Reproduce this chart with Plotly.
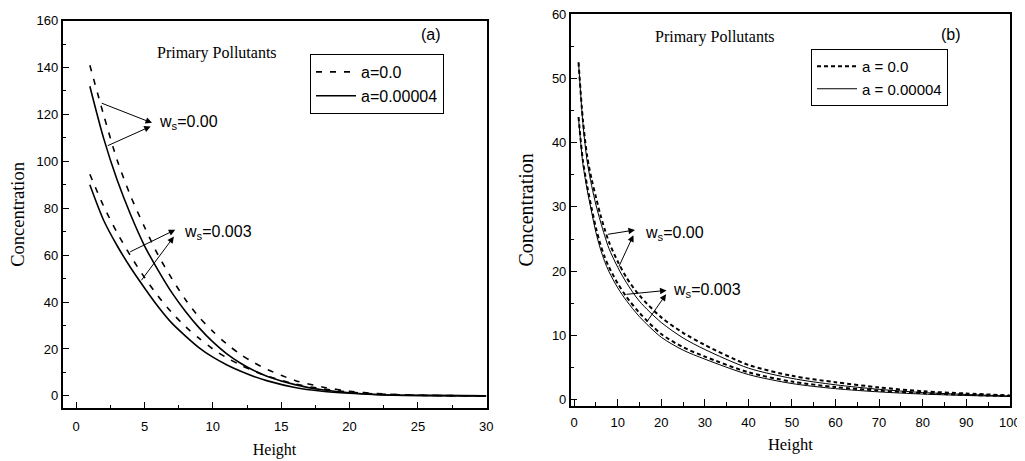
import numpy as np
import plotly.graph_objects as go

# ---------------- data ----------------
# Panel (a)
height_a = [1, 2, 3, 4, 5, 6, 7, 8, 9, 10, 11, 12, 13, 14, 16, 18, 20, 22, 25, 30]
a_dash_w0 = [141, 120, 100.5, 85, 72, 60, 50, 41, 33.5, 27.5, 22.2, 17.8, 14.2, 11.2, 6.6, 3.8, 2.0, 1.0, 0.3, 0.0]
a_solid_w0 = [132, 110, 92, 77, 64, 53.5, 44, 36, 29, 23, 18, 14, 10.8, 8.3, 4.8, 2.6, 1.3, 0.6, 0.2, 0.0]
a_dash_w3 = [94.5, 81, 69.5, 59.5, 50.5, 42.5, 35.5, 29.5, 24.5, 20, 16.3, 13.2, 10.6, 8.4, 5.1, 3.0, 1.6, 0.8, 0.25, 0.0]
a_solid_w3 = [90, 75, 64, 54.5, 46, 38, 31, 25.5, 20.5, 16.5, 13.3, 10.6, 8.3, 6.4, 3.6, 2.0, 1.1, 0.5, 0.15, 0.0]

# Panel (b)
height_b = [1, 2, 3, 4, 5, 6, 7, 8, 10, 12, 15, 20, 25, 30, 40, 50, 60, 70, 80, 90, 100]
b_dash_w0 = [52.5, 43.5, 37.8, 34.3, 31.5, 28.8, 26.5, 24.5, 21.5, 19, 16.2, 12.8, 10.4, 8.5, 5.4, 3.7, 2.7, 1.9, 1.3, 0.95, 0.65]
b_solid_w0 = [52.5, 43, 37, 33.3, 30.3, 27.8, 25.5, 23.5, 20.6, 18.2, 15.3, 12, 9.6, 7.8, 4.9, 3.3, 2.3, 1.6, 1.1, 0.8, 0.55]
b_dash_w3 = [44, 37.2, 33.2, 29.8, 26.7, 24.2, 22.2, 20.6, 18.1, 16.0, 13.5, 10.2, 8.15, 6.7, 4.25, 2.8, 1.95, 1.4, 1.0, 0.74, 0.56]
b_solid_w3 = [43.8, 36.7, 32.6, 29.2, 26.0, 23.5, 21.5, 19.9, 17.4, 15.4, 12.9, 9.7, 7.7, 6.3, 3.9, 2.5, 1.7, 1.2, 0.86, 0.64, 0.49]

legend_a = ["a=0.0", "a=0.00004"]
legend_b = ["a = 0.0", "a = 0.00004"]
ticks_a_x = [0, 5, 10, 15, 20, 25, 30]
ticks_a_y = [0, 20, 40, 60, 80, 100, 120, 140, 160]
ticks_b_x = [0, 10, 20, 30, 40, 50, 60, 70, 80, 90, 100]
ticks_b_y = [0, 10, 20, 30, 40, 50, 60]

# label positions (data coords)
lab_a = {"w0": (5.9, 116.4), "w3": (7.75, 69.5)}
lab_b = {"w0": (15.8, 25.9), "w3": (22.2, 17.0)}

SANS = "Liberation Sans"
SERIF = "Liberation Serif"

W, H = 1025, 461
OFF = 8  # page body margin of the html page


def px(xp):
    return (xp - OFF) / W


def py(yp):
    return (H + OFF - yp) / H


fig = go.Figure()


def add(x, y, xa, ya, dash, width, name, show, legend):
    fig.add_trace(go.Scatter(
        x=x, y=y, mode="lines", xaxis=xa, yaxis=ya, name=name,
        showlegend=show, legend=legend,
        line=dict(color="black", width=width, dash=dash, shape="spline", smoothing=0.8),
        hoverinfo="skip"))


DA = "6px,8px"
add(height_a, a_dash_w0, "x", "y", DA, 1.6, legend_a[0], True, "legend")
add(height_a, a_solid_w0, "x", "y", "solid", 1.6, legend_a[1], True, "legend")
add(height_a, a_dash_w3, "x", "y", DA, 1.6, legend_a[0], False, "legend")
add(height_a, a_solid_w3, "x", "y", "solid", 1.6, legend_a[1], False, "legend")

DB = "4px,3px"
add(height_b, b_dash_w0, "x2", "y2", DB, 2, legend_b[0], True, "legend2")
add(height_b, b_solid_w0, "x2", "y2", "solid", 1, legend_b[1], True, "legend2")
add(height_b, b_dash_w3, "x2", "y2", DB, 2, legend_b[0], False, "legend2")
add(height_b, b_solid_w3, "x2", "y2", "solid", 1, legend_b[1], False, "legend2")


def arrow(xref, yref, tail_x, curve_x, curve_y, head):
    ty = float(np.interp(tail_x, curve_x, curve_y))
    fig.add_annotation(x=head[0], y=head[1], ax=tail_x, ay=ty, xref=xref, yref=yref,
                       axref=xref, ayref=yref, text="", showarrow=True,
                       arrowhead=2, arrowsize=1.3, arrowwidth=1, arrowcolor="black",
                       standoff=0, startstandoff=0)


def label(xref, yref, pos, txt, size):
    fig.add_annotation(x=pos[0], y=pos[1], xref=xref, yref=yref, text=txt,
                       showarrow=False, xanchor="left", yanchor="middle",
                       font=dict(family=SANS, size=size, color="black"))


# panel (a) arrows
arrow("x", "y", 1.76, height_a, a_dash_w0, (lab_a["w0"][0] - 0.35, lab_a["w0"][1]))
arrow("x", "y", 2.2, height_a, a_solid_w0, (lab_a["w0"][0] - 0.45, lab_a["w0"][1] - 1.5))
arrow("x", "y", 3.84, height_a, a_dash_w3, (lab_a["w3"][0] - 0.5, lab_a["w3"][1] + 1.3))
arrow("x", "y", 4.69, height_a, a_solid_w3, (lab_a["w3"][0] - 0.6, lab_a["w3"][1] - 1.6))
label("x", "y", lab_a["w0"], "w<sub>s</sub>=0.00", 16)
label("x", "y", lab_a["w3"], "w<sub>s</sub>=0.003", 16)

# panel (b) arrows
arrow("x2", "y2", 7.4, height_b, b_dash_w0, (lab_b["w0"][0] - 1.85, lab_b["w0"][1] + 0.5))
arrow("x2", "y2", 10.1, height_b, b_solid_w0, (lab_b["w0"][0] - 2.2, lab_b["w0"][1] - 0.3))
arrow("x2", "y2", 11.65, height_b, b_dash_w3, (lab_b["w3"][0] - 1.0, lab_b["w3"][1]))
arrow("x2", "y2", 16.5, height_b, b_solid_w3, (lab_b["w3"][0] - 1.1, lab_b["w3"][1] - 0.6))
label("x2", "y2", lab_b["w0"], "w<sub>s</sub>=0.00", 16)
label("x2", "y2", lab_b["w3"], "w<sub>s</sub>=0.003", 16)


def ptext(xp, yp, txt, family, size):
    fig.add_annotation(x=px(xp), y=py(yp), xref="paper", yref="paper", text=txt,
                       showarrow=False, xanchor="center", yanchor="middle",
                       font=dict(family=family, size=size, color="black"))


ptext(217, 53, "Primary Pollutants", SERIF, 16)
ptext(431, 35, "(a)", SANS, 16)
ptext(715, 37, "Primary Pollutants", SERIF, 16)
ptext(951, 35, "(b)", SANS, 16)

tickfont = dict(family=SANS, size=13, color="black")


def axis(domain, rng, tickvals, minor_dtick, title, tsize, standoff, anchor, lab_off=0):
    d = dict(domain=domain, range=rng, tickvals=tickvals, ticks="inside", ticklen=7,
             tickwidth=1, tickcolor="black", showline=True, linecolor="black",
             linewidth=1.5, mirror=True, showgrid=False, zeroline=False,
             tickfont=tickfont, anchor=anchor, automargin=False,
             ticklabeloverflow="allow",
             minor=dict(ticks="inside", ticklen=4, dtick=minor_dtick, tickcolor="black",
                        showgrid=False),
             title=dict(text=title, font=dict(family=SERIF, size=tsize, color="black"),
                        standoff=standoff))
    if lab_off:
        d["ticklabelstandoff"] = lab_off
    return d


fig.update_layout(
    width=W, height=H,
    margin=dict(l=0, r=0, t=0, b=0),
    paper_bgcolor="white", plot_bgcolor="white",
    xaxis=axis([px(62.5), px(486.5)], [-1, 30.02], ticks_a_x, 2.5, "Height", 16, 11, "y", 5),
    yaxis=axis([py(408.3), py(20.5)], [-5.3, 160.05], ticks_a_y, 10, "Concentration", 18.5, 8, "x"),
    xaxis2=axis([px(570.7), px(1010)], [-0.8, 100.05], ticks_b_x, 5, "Height", 16.5, 9, "y2", 4),
    yaxis2=axis([py(405.7), py(14)], [-0.95, 60.03], ticks_b_y, 5, "Concentration", 20, 13, "x2"),
    legend=dict(x=px(310), y=py(54), xanchor="left", yanchor="top", bordercolor="black",
                borderwidth=1, bgcolor="white", font=dict(family=SANS, size=16, color="black"),
                itemwidth=40),
    legend2=dict(x=px(811), y=py(49), xanchor="left", yanchor="top", bordercolor="black",
                 borderwidth=1, bgcolor="white", font=dict(family=SANS, size=15, color="black"),
                 itemwidth=40),
)

fig.write_html("out.html")
